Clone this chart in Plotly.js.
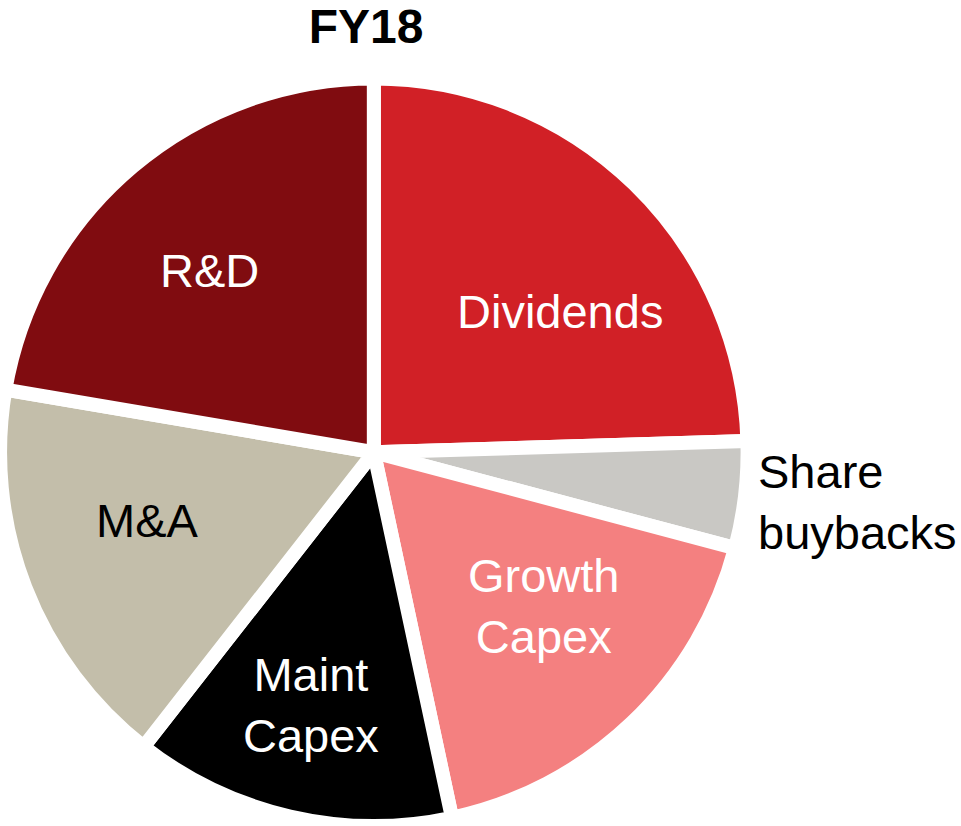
<!DOCTYPE html>
<html>
<head>
<meta charset="utf-8">
<script src="https://cdn.plot.ly/plotly-3.0.1.min.js"></script>
<style>html,body{margin:0;padding:0;background:#fff;}#chart{width:961px;height:826px;}</style>
</head>
<body>
<div id="chart"></div>
<script>
// Data
const labels = ["Dividends", "Share buybacks", "Growth Capex", "Maint Capex", "M&A", "R&D"];
const values = [24.5, 4.6, 17.5, 13.9, 17.1, 22.3];
const colors = ["#D12026", "#C9C8C4", "#F48080", "#000000", "#C3BEAA", "#800C10"];
const labelText = ["Dividends", "Share<br>buybacks", "Growth<br>Capex", "Maint<br>Capex", "M&A", "R&D"];
const textColors = ["#FFFFFF", "#000000", "#FFFFFF", "#FFFFFF", "#000000", "#FFFFFF"];

// Label placement (pixels from top-left)
const labelPos = [[560, 311], [756, 502], [544, 606], [311, 705], [147, 520], [209, 270]];
const labelAlign = ["center", "left", "center", "center", "center", "center"];

const W = 961, H = 826;
const font = "Liberation Sans, Arial, sans-serif";

const annotations = labels.map((l, i) => ({
  xref: "paper", yref: "paper",
  x: labelPos[i][0] / W, y: 1 - labelPos[i][1] / H,
  xanchor: labelAlign[i] === "left" ? "left" : "center",
  yanchor: "middle",
  align: labelAlign[i],
  text: labelText[i],
  showarrow: false,
  font: {family: font, size: 47, color: textColors[i]}
}));

const trace = {
  type: "pie",
  labels: labels,
  values: values,
  sort: false,
  direction: "clockwise",
  rotation: 0,
  textinfo: "none",
  hoverinfo: "label+percent",
  marker: {colors: colors, line: {color: "#FFFFFF", width: 14}},
  domain: {x: [0, 0.778], y: [0, 0.905]},
  showlegend: false
};

const layout = {
  width: W, height: H,
  margin: {l: 0, r: 0, t: 0, b: 0},
  paper_bgcolor: "#FFFFFF",
  plot_bgcolor: "#FFFFFF",
  title: {
    text: "<b>FY18</b>",
    font: {family: font, size: 48, color: "#000000"},
    x: 366 / W, xanchor: "center",
    y: 1 - 26 / H, yanchor: "middle",
    xref: "paper", yref: "container"
  },
  annotations: annotations,
  showlegend: false
};

Plotly.newPlot("chart", [trace], layout, {displayModeBar: false, staticPlot: true});
</script>
</body>
</html>
